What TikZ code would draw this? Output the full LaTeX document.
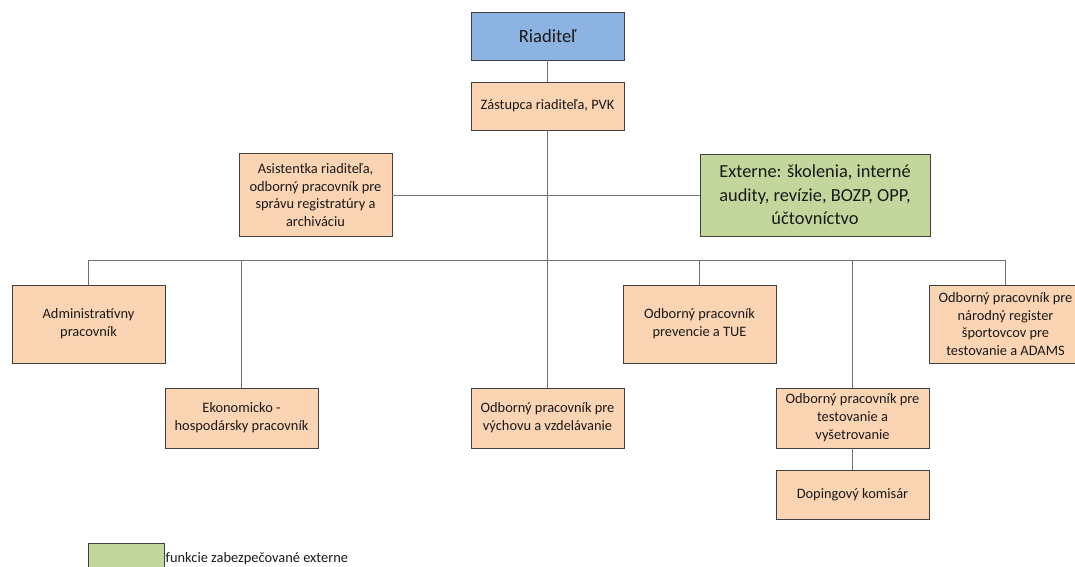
\documentclass[tikz,border=0pt]{standalone}
\usepackage{fontspec}
\setmainfont{Carlito}
\definecolor{boxblue}{HTML}{8DB3E2}
\definecolor{boxpeach}{HTML}{FBD4B4}
\definecolor{boxgreen}{HTML}{C3D69B}
\definecolor{edgegray}{HTML}{404040}
\definecolor{linegray}{HTML}{707070}
\tikzset{
  orgbox/.style={draw=edgegray, line width=0.9pt, fill=boxpeach, inner sep=0pt,
    minimum width=153pt, align=center, text=black!90,
    font=\fontsize{14.4}{17.9}\selectfont},
  conn/.style={draw=linegray, line width=0.9pt},
}
\begin{document}
\begin{tikzpicture}[x=1pt,y=-1pt]
\useasboundingbox (0,0) rectangle (1075,566);
\clip (0,0) rectangle (1075,566);
\node[orgbox, fill=boxblue, minimum height=48pt, font=\fontsize{18.6}{22}\selectfont] (riad) at (547.5,36) {Riaditeľ};
\node[orgbox, minimum height=48pt] (zast) at (547.5,106) {Zástupca riaditeľa, PVK};
\node[orgbox, minimum height=83pt] (asis) at (315.5,195) {Asistentka riaditeľa,\\odborný pracovník pre\\správu registratúry a\\archiváciu};
\node[orgbox, fill=boxgreen, minimum width=230pt, minimum height=82pt, font=\fontsize{18.4}{23.5}\selectfont] (ext) at (815,195) {Externe: školenia, interné\\audity, revízie, BOZP, OPP,\\účtovníctvo};
\node[orgbox, minimum height=78pt] (adm) at (88.5,324) {Administratívny\\pracovník};
\node[orgbox, minimum height=60pt] (eko) at (241.5,418) {Ekonomicko -\\hospodársky pracovník};
\node[orgbox, minimum height=60pt] (vych) at (547.5,418) {Odborný pracovník pre\\výchovu a vzdelávanie};
\node[orgbox, minimum height=78pt] (prev) at (699.5,324) {Odborný pracovník\\prevencie a TUE};
\node[orgbox, minimum height=60pt] (test) at (852.5,418) {Odborný pracovník pre\\testovanie a\\vyšetrovanie};
\node[orgbox, minimum height=49pt] (dop) at (852.5,494.5) {Dopingový komisár};
\node[orgbox, minimum height=78pt] (reg) at (1005.5,324) {Odborný pracovník pre\\národný register\\športovcov pre\\testovanie a ADAMS};
\coordinate (busL) at (88.5,260);
\coordinate (busR) at (1005.5,260);
\draw[conn] (riad.south) -- (zast.north);
\draw[conn] (zast.south) -- (vych.north);
\draw[conn] (asis.east) -- (ext.west);
\draw[conn] (busL) -- (busR);
\draw[conn] (busL) -- (adm.north);
\draw[conn] (eko.north |- busL) -- (eko.north);
\draw[conn] (prev.north |- busL) -- (prev.north);
\draw[conn] (test.north |- busL) -- (test.north);
\draw[conn] (busR) -- (reg.north);
\draw[conn] (test.south) -- (dop.north);
\node[draw=edgegray, line width=0.6pt, fill=boxgreen, minimum width=76pt, minimum height=26pt, inner sep=0pt] (leg) at (126,556) {};
\node[anchor=west, inner sep=0pt, font=\fontsize{14.4}{17}\selectfont, text=black!90] (legtext) at (165.5,559) {funkcie zabezpečované externe};
\end{tikzpicture}
\end{document}
